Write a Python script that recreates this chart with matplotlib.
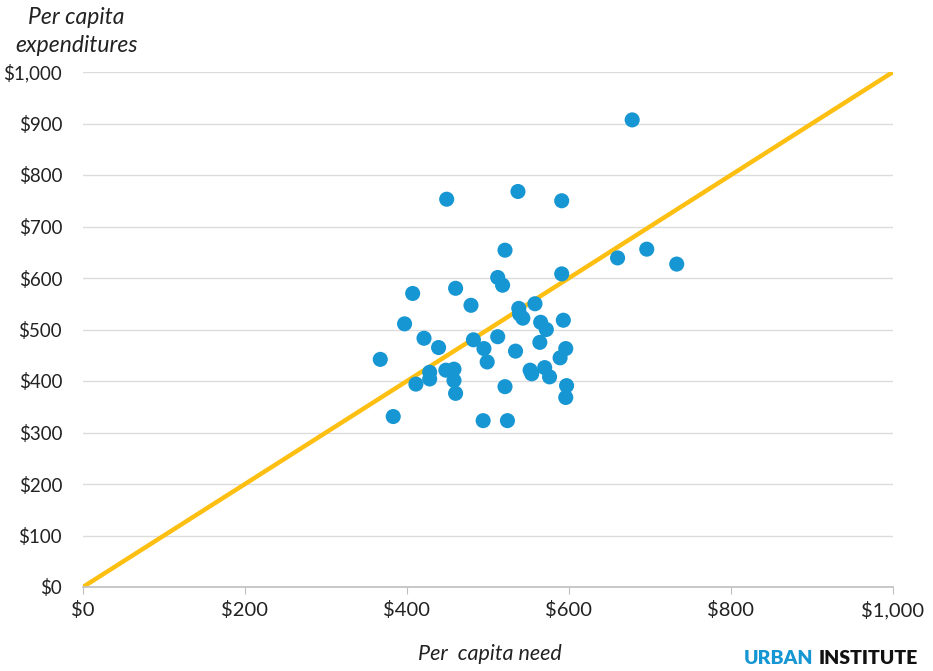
import numpy as np
import matplotlib
matplotlib.use("Agg")
from matplotlib import pyplot as plt
from matplotlib.ticker import FuncFormatter

plt.rcParams['font.family'] = ['Lato', 'DejaVu Sans']

# per capita need (x) vs per capita expenditures (y)
need = [678, 449, 537, 591, 521, 660, 696, 733, 591, 407, 460, 512, 518,
        479, 558, 538, 539, 543, 397, 565, 572, 593, 421, 439, 482, 512,
        495, 499, 534, 564, 596, 589, 367, 411, 428, 428, 448, 458, 458,
        460, 552, 554, 570, 576, 521, 597, 596, 383, 494, 524]
expend = [907, 753, 768, 750, 654, 639, 656, 627, 608, 570, 580, 601, 586,
          547, 550, 541, 530, 522, 511, 514, 500, 518, 483, 465, 480, 486,
          463, 437, 458, 475, 463, 445, 442, 394, 417, 404, 421, 423, 401,
          376, 421, 414, 426, 408, 389, 391, 368, 331, 323, 323]
ticks = [0, 200, 400, 600, 800, 1000]
yticks = list(range(0, 1001, 100))

blue = '#1696d2'
yellow = '#fdbf11'

fig = plt.figure(figsize=(9.33, 6.71), dpi=100)
ax = fig.add_axes([83/933, 84/671, 810/933, 515/671])

ax.plot([0, 1000], [0, 1000], color=yellow, lw=3.2, solid_capstyle='butt', zorder=2)
ax.scatter(need, expend, s=118, color=blue, edgecolors='none', zorder=3)

ax.set_xlim(0, 1000)
ax.set_ylim(0, 1000)
ax.set_xticks(ticks)
ax.set_yticks(yticks)
fmt = FuncFormatter(lambda v, p: '${:,.0f}'.format(v))
ax.xaxis.set_major_formatter(fmt)
ax.yaxis.set_major_formatter(fmt)

ax.grid(axis='y', color='#dcdcdc', lw=1)
ax.set_axisbelow(True)
for s in ['top', 'right', 'left']:
    ax.spines[s].set_visible(False)
ax.spines['bottom'].set_color('#bfbfbf')
ax.spines['bottom'].set_linewidth(1.2)
ax.tick_params(axis='x', length=5, color='#bfbfbf', labelsize=14.5, pad=5, labelcolor='#222222')
ax.tick_params(axis='y', length=0, labelsize=13.5, pad=15, labelcolor='#222222')

fig.text(76/933, 1 - 18/671, 'Per capita', style='italic', fontsize=16.5,
         ha='center', va='center', color='#222222')
fig.text(77/933, 1 - 46/671, 'expenditures', style='italic', fontsize=16.5,
         ha='center', va='center', color='#222222')
fig.text(490/933, 1 - 654/671, 'Per  capita need', style='italic', fontsize=15.5,
         ha='center', va='center', color='#222222')

fig.text(744/933, 1 - 659/671, 'URBAN', fontsize=14, fontweight='heavy',
         color=blue, ha='left', va='center')
fig.text(819/933, 1 - 659/671, 'INSTITUTE', fontsize=14, fontweight='heavy',
         color='#111111', ha='left', va='center')

fig.savefig('out.png', dpi=100)
